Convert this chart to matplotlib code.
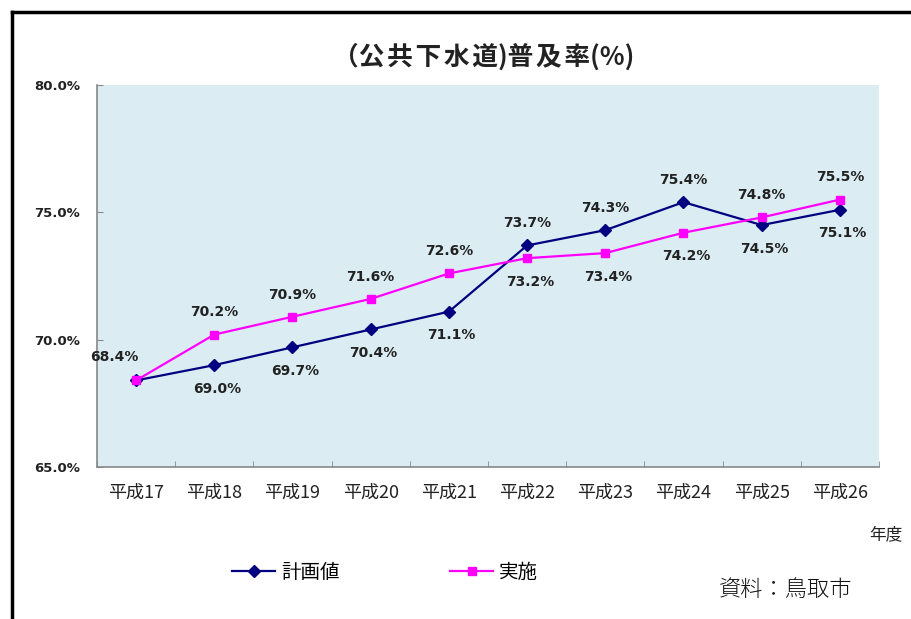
import numpy as np
import matplotlib.pyplot as plt
from matplotlib.lines import Line2D

plt.rcParams['font.family'] = ['Noto Sans CJK JP', 'DejaVu Sans']

# データ
years = ["平成17", "平成18", "平成19", "平成20", "平成21",
         "平成22", "平成23", "平成24", "平成25", "平成26"]
keikaku = [68.4, 69.0, 69.7, 70.4, 71.1, 73.7, 74.3, 75.4, 74.5, 75.1]
jisshi = [68.4, 70.2, 70.9, 71.6, 72.6, 73.2, 73.4, 74.2, 74.8, 75.5]

# ラベルの位置 (上 / 下)
keikaku_pos = ["skip", "down", "down", "down", "down", "up", "up", "up", "down", "down"]
jisshi_pos = ["left", "up", "up", "up", "up", "down", "down", "down", "up", "up"]

fig = plt.figure(figsize=(9.12, 6.19), dpi=100)
ax = fig.add_axes([97 / 912, 1 - 467 / 619, 782 / 912, 382 / 619])
ax.set_facecolor("#dbedf3")

x = np.arange(len(years))
ax.plot(x, keikaku, color="#000080", marker="D", markersize=6, lw=1.6, zorder=3)
ax.plot(x, jisshi, color="#ff00ff", marker="s", markersize=6, lw=1.6, zorder=3)

def label(xs, ys, pos):
    for xi, yi, p in zip(xs, ys, pos):
        if p == "skip":
            continue
        if p == "up":
            off = (0, 16)
        elif p == "down":
            off = (2, -17)
        else:
            off = (-16, 17)
        ax.annotate(f"{yi:.1f}%", (xi, yi), xytext=off, textcoords="offset points",
                    ha="center", va="center", fontsize=10, fontweight="bold",
                    color="#222222", family="DejaVu Sans")

label(x, keikaku, keikaku_pos)
label(x, jisshi, jisshi_pos)

ax.set_xlim(-0.5, len(years) - 0.5)
ax.set_ylim(65, 80)
ax.set_yticks([65, 70, 75, 80])
ax.set_yticklabels(["65.0%", "70.0%", "75.0%", "80.0%"], fontsize=9.5,
                   fontweight="bold", family="DejaVu Sans", color="#222222")
ax.set_xticks(x)
ax.set_xticklabels(years, fontsize=13, color="#222222")
ax.set_xticks(np.arange(-0.5, len(years)), minor=True)
ax.tick_params(axis="x", which="major", length=0, pad=12)
ax.tick_params(axis="x", which="minor", length=4, direction="in", color="#888888")
ax.tick_params(axis="y", length=4, direction="in", color="#888888", pad=45)
for lab in ax.get_yticklabels():
    lab.set_horizontalalignment("left")

for s in ["top", "right"]:
    ax.spines[s].set_visible(False)
for s in ["left", "bottom"]:
    ax.spines[s].set_color("#888888")
    ax.spines[s].set_linewidth(1.2)

fig.text(484 / 912, 1 - 57 / 619, "（公\u200a共\u200a下\u200a水\u200a道)普\u200a及\u200a率(%)",
         ha="center", va="center", fontsize=18.5, fontweight="bold", color="#222222")
fig.text(886 / 912, 1 - 535 / 619, "年度", ha="center", va="center", fontsize=12,
         color="#222222")
fig.text(786 / 912, 1 - 590 / 619, "資料：鳥取市", ha="center", va="center", fontsize=16,
         fontweight="light", color="#111111")

handles = [Line2D([], [], color="#000080", marker="D", markersize=6, lw=1.6),
           Line2D([], [], color="#ff00ff", marker="s", markersize=6, lw=1.6)]
fig.legend(handles, ["計画値", "実施"], loc="center", bbox_to_anchor=(385 / 912, 1 - 572 / 619),
           ncol=2, frameon=False, fontsize=14, columnspacing=5.7, handlelength=2.2,
           handletextpad=0.3)

# 外枠
fig.add_artist(Line2D([12 / 912, 12 / 912], [0, 1 - 12 / 619], color="black", lw=2.5,
                      transform=fig.transFigure))
fig.add_artist(Line2D([12 / 912, 1], [1 - 12 / 619, 1 - 12 / 619], color="black", lw=2.5,
                      transform=fig.transFigure))

fig.savefig("out.png", dpi=100)
